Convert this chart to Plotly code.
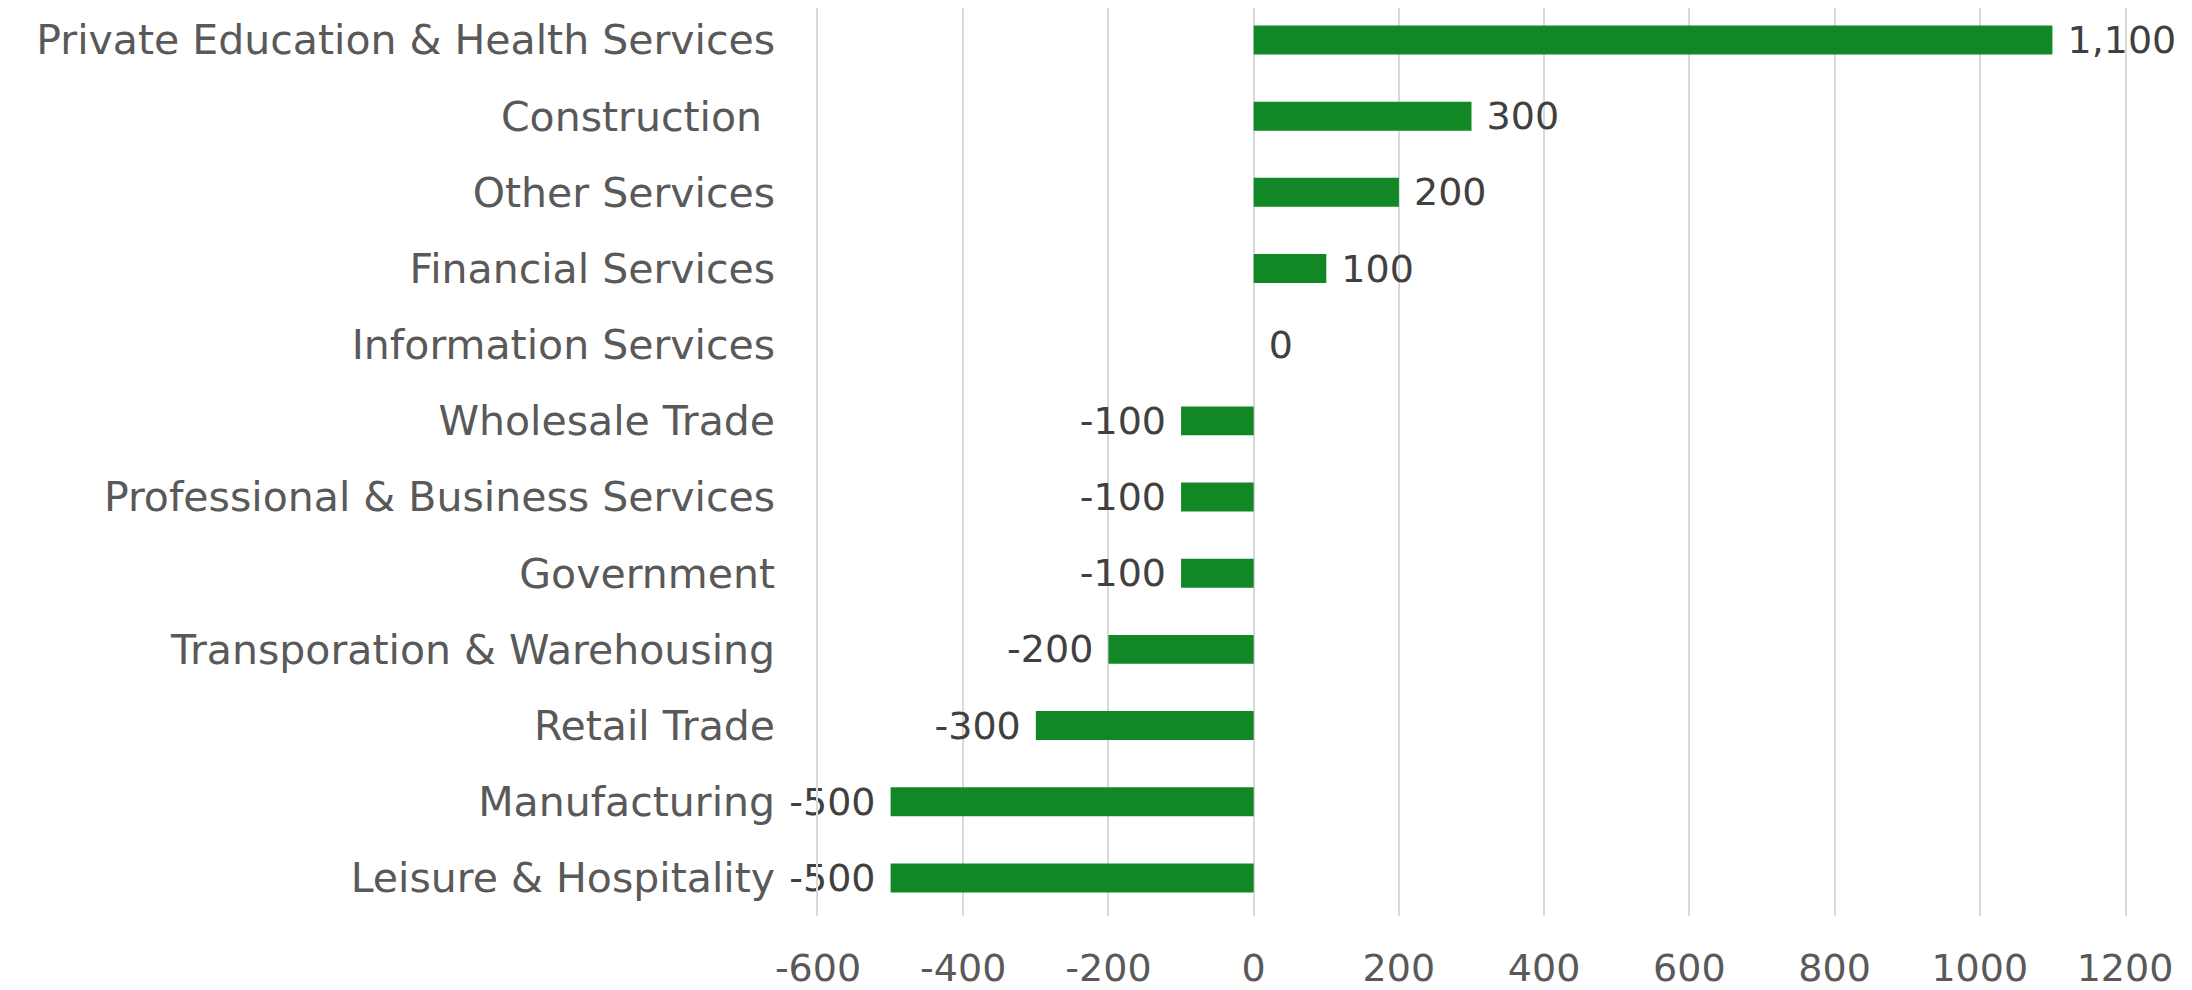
import plotly.graph_objects as go

categories = [
    "Private Education & Health Services",
    "Construction ",
    "Other Services",
    "Financial Services",
    "Information Services",
    "Wholesale Trade",
    "Professional & Business Services",
    "Government",
    "Transporation & Warehousing",
    "Retail Trade",
    "Manufacturing",
    "Leisure & Hospitality",
]
values = [1100, 300, 200, 100, 0, -100, -100, -100, -200, -300, -500, -500]
x_ticks = [-600, -400, -200, 0, 200, 400, 600, 800, 1000, 1200]

FONT = "DejaVu Sans"
NUM_SIZE = 38
CAT_SIZE = 41
GRID = "#d9d9d9"

# small gap between bar end and its label (space on the outer side)
label_templates = [" %{x:,}" if v >= 0 else "%{x:,} " for v in values]

fig = go.Figure(
    go.Bar(
        y=categories,
        x=values,
        orientation="h",
        marker=dict(color="#128726", line=dict(width=0)),
        texttemplate=label_templates,
        textposition="outside",
        constraintext="none",
        cliponaxis=False,
        textfont=dict(family=FONT, size=NUM_SIZE, color="#404040"),
    )
)

# page body has an 8px margin, so the figure is 8px smaller and offset
fig.update_layout(
    width=2184,
    height=982,
    margin=dict(l=810, r=67, t=0, b=74),
    paper_bgcolor="white",
    plot_bgcolor="white",
    bargap=0.62,
    showlegend=False,
    font=dict(family=FONT, size=NUM_SIZE, color="#595959"),
)
fig.update_xaxes(
    range=[-600, 1200],
    tickvals=x_ticks,
    ticktext=[str(v) for v in x_ticks],
    showgrid=True,
    gridcolor=GRID,
    gridwidth=1.5,
    zeroline=True,
    zerolinecolor=GRID,
    zerolinewidth=1.5,
    ticks="outside",
    ticklen=18,
    tickcolor="rgba(0,0,0,0)",
    tickfont=dict(family=FONT, size=NUM_SIZE, color="#595959"),
    showline=False,
    automargin=False,
)
fig.update_yaxes(
    range=[11.5, -0.42],
    showgrid=False,
    ticks="outside",
    ticklen=33,
    tickcolor="rgba(0,0,0,0)",
    tickfont=dict(family=FONT, size=CAT_SIZE, color="#595959"),
    showline=True,
    mirror=True,
    linecolor=GRID,
    linewidth=1.5,
    automargin=False,
)

fig.write_html("out.html")
